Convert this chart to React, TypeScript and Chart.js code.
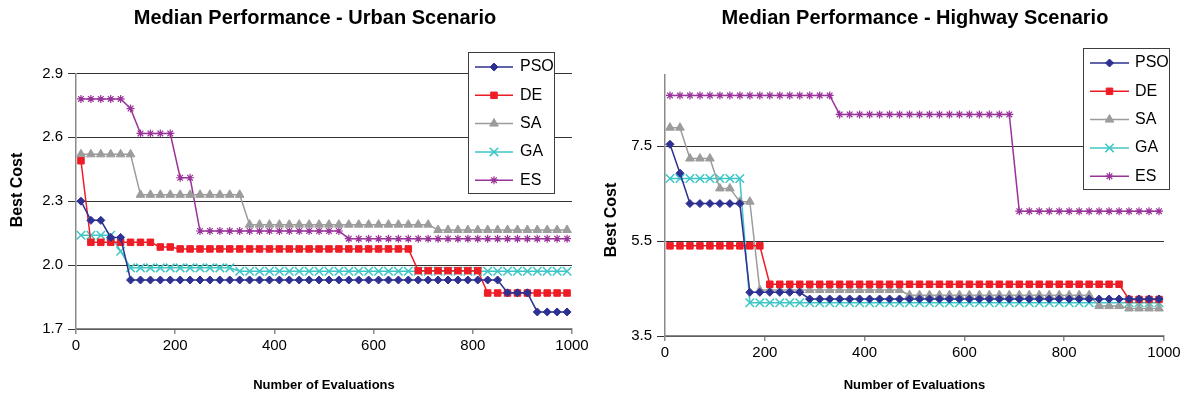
import React, { useEffect, useRef } from 'react';
import { Chart, registerables } from 'chart.js';
import { drawPoint } from 'chart.js/helpers';

Chart.register(...registerables);

const FONT = "'Liberation Sans', Arial, Helvetica, sans-serif";

// Number of evaluations at which each sample was recorded
const evaluations = [
  10, 30, 50, 70, 90, 110, 130, 150, 170, 190,
  210, 230, 250, 270, 290, 310, 330, 350, 370, 390,
  410, 430, 450, 470, 490, 510, 530, 550, 570, 590,
  610, 630, 650, 670, 690, 710, 730, 750, 770, 790,
  810, 830, 850, 870, 890, 910, 930, 950, 970, 990,
];

const xTickValues = [0, 200, 400, 600, 800, 1000];
const urbanYTicks = [1.7, 2.0, 2.3, 2.6, 2.9];
const highwayYTicks = [3.5, 5.5, 7.5];

const seriesNames = ['PSO', 'DE', 'SA', 'GA', 'ES'];

// ---------- Urban scenario ----------
const urbanPSO = [
  2.30, 2.21, 2.21, 2.13, 2.13, 1.93, 1.93, 1.93, 1.93, 1.93,
  1.93, 1.93, 1.93, 1.93, 1.93, 1.93, 1.93, 1.93, 1.93, 1.93,
  1.93, 1.93, 1.93, 1.93, 1.93, 1.93, 1.93, 1.93, 1.93, 1.93,
  1.93, 1.93, 1.93, 1.93, 1.93, 1.93, 1.93, 1.93, 1.93, 1.93,
  1.93, 1.93, 1.93, 1.87, 1.87, 1.87, 1.78, 1.78, 1.78, 1.78,
];
const urbanDE = [
  2.49, 2.107, 2.107, 2.107, 2.107, 2.107, 2.107, 2.107, 2.085, 2.085,
  2.076, 2.076, 2.076, 2.076, 2.076, 2.076, 2.076, 2.076, 2.076, 2.076,
  2.076, 2.076, 2.076, 2.076, 2.076, 2.076, 2.076, 2.076, 2.076, 2.076,
  2.076, 2.076, 2.076, 2.076, 1.974, 1.974, 1.974, 1.974, 1.974, 1.974,
  1.974, 1.869, 1.869, 1.869, 1.869, 1.869, 1.869, 1.869, 1.869, 1.869,
];
const urbanSA = [
  2.52, 2.52, 2.52, 2.52, 2.52, 2.52, 2.33, 2.33, 2.33, 2.33,
  2.33, 2.33, 2.33, 2.33, 2.33, 2.33, 2.33, 2.19, 2.19, 2.19,
  2.19, 2.19, 2.19, 2.19, 2.19, 2.19, 2.19, 2.19, 2.19, 2.19,
  2.19, 2.19, 2.19, 2.19, 2.19, 2.19, 2.165, 2.165, 2.165, 2.165,
  2.165, 2.165, 2.165, 2.165, 2.165, 2.165, 2.165, 2.165, 2.165, 2.165,
];
const urbanGA = [
  2.14, 2.14, 2.14, 2.14, 2.065, 1.987, 1.987, 1.987, 1.987, 1.987,
  1.987, 1.987, 1.987, 1.987, 1.987, 1.987, 1.971, 1.971, 1.971, 1.971,
  1.971, 1.971, 1.971, 1.971, 1.971, 1.971, 1.971, 1.971, 1.971, 1.971,
  1.971, 1.971, 1.971, 1.971, 1.971, 1.971, 1.971, 1.971, 1.971, 1.971,
  1.971, 1.971, 1.971, 1.971, 1.971, 1.971, 1.971, 1.971, 1.971, 1.971,
];
const urbanES = [
  2.78, 2.78, 2.78, 2.78, 2.78, 2.735, 2.618, 2.618, 2.618, 2.618,
  2.41, 2.41, 2.16, 2.16, 2.16, 2.16, 2.16, 2.16, 2.16, 2.16,
  2.16, 2.16, 2.16, 2.16, 2.16, 2.16, 2.16, 2.124, 2.124, 2.124,
  2.124, 2.124, 2.124, 2.124, 2.124, 2.124, 2.124, 2.124, 2.124, 2.124,
  2.124, 2.124, 2.124, 2.124, 2.124, 2.124, 2.124, 2.124, 2.124, 2.124,
];

// ---------- Highway scenario ----------
const highwayPSO = [
  7.54, 6.93, 6.29, 6.29, 6.29, 6.29, 6.29, 6.29, 4.42, 4.42,
  4.42, 4.42, 4.42, 4.42, 4.28, 4.28, 4.28, 4.28, 4.28, 4.28,
  4.28, 4.28, 4.28, 4.28, 4.28, 4.28, 4.28, 4.28, 4.28, 4.28,
  4.28, 4.28, 4.28, 4.28, 4.28, 4.28, 4.28, 4.28, 4.28, 4.28,
  4.28, 4.28, 4.28, 4.28, 4.28, 4.28, 4.28, 4.28, 4.28, 4.28,
];
const highwayDE = [
  5.40, 5.40, 5.40, 5.40, 5.40, 5.40, 5.40, 5.40, 5.40, 5.40,
  4.59, 4.59, 4.59, 4.59, 4.59, 4.59, 4.59, 4.59, 4.59, 4.59,
  4.59, 4.59, 4.59, 4.59, 4.59, 4.59, 4.59, 4.59, 4.59, 4.59,
  4.59, 4.59, 4.59, 4.59, 4.59, 4.59, 4.59, 4.59, 4.59, 4.59,
  4.59, 4.59, 4.59, 4.59, 4.59, 4.59, 4.27, 4.27, 4.27, 4.27,
];
const highwaySA = [
  7.89, 7.89, 7.24, 7.24, 7.24, 6.61, 6.61, 6.33, 6.33, 4.47,
  4.47, 4.47, 4.47, 4.47, 4.47, 4.47, 4.47, 4.47, 4.47, 4.47,
  4.47, 4.47, 4.47, 4.47, 4.36, 4.36, 4.36, 4.36, 4.36, 4.36,
  4.36, 4.36, 4.36, 4.36, 4.36, 4.36, 4.36, 4.36, 4.36, 4.36,
  4.36, 4.36, 4.36, 4.13, 4.13, 4.13, 4.08, 4.08, 4.08, 4.08,
];
const highwayGA = [
  6.82, 6.82, 6.82, 6.82, 6.82, 6.82, 6.82, 6.82, 4.20, 4.20,
  4.20, 4.20, 4.20, 4.20, 4.20, 4.20, 4.20, 4.20, 4.20, 4.20,
  4.20, 4.20, 4.20, 4.20, 4.20, 4.20, 4.20, 4.20, 4.20, 4.20,
  4.20, 4.20, 4.20, 4.20, 4.20, 4.20, 4.20, 4.20, 4.20, 4.20,
  4.20, 4.20, 4.20, 4.20, 4.20, 4.20, 4.20, 4.20, 4.20, 4.20,
];
const highwayES = [
  8.57, 8.57, 8.57, 8.57, 8.57, 8.57, 8.57, 8.57, 8.57, 8.57,
  8.57, 8.57, 8.57, 8.57, 8.57, 8.57, 8.57, 8.17, 8.17, 8.17,
  8.17, 8.17, 8.17, 8.17, 8.17, 8.17, 8.17, 8.17, 8.17, 8.17,
  8.17, 8.17, 8.17, 8.17, 8.17, 6.13, 6.13, 6.13, 6.13, 6.13,
  6.13, 6.13, 6.13, 6.13, 6.13, 6.13, 6.13, 6.13, 6.13, 6.13,
];

const seriesStyles = [
  { color: '#2E3192', pointStyle: 'rectRot', radius: 4, bw: 1 },
  { color: '#EE1C25', pointStyle: 'rect', radius: 4.6, bw: 1 },
  { color: '#9C9C9C', pointStyle: 'triangle', radius: 5, bw: 1 },
  { color: '#3EC6C6', pointStyle: 'crossRot', radius: 6, bw: 1.5 },
  { color: '#993399', pointStyle: 'star', radius: 4, bw: 1.2 },
];

const boxLegend = {
  id: 'boxLegend',
  afterDraw(chart: any, _args: any, opts: any) {
    if (!opts || !opts.display) return;
    const ctx = chart.ctx as CanvasRenderingContext2D;
    ctx.save();
    ctx.fillStyle = '#ffffff';
    ctx.fillRect(opts.x, opts.y, opts.w, opts.h);
    ctx.strokeStyle = '#3c3c3c';
    ctx.lineWidth = 1;
    ctx.strokeRect(opts.x + 0.5, opts.y + 0.5, opts.w, opts.h);
    chart.data.datasets.forEach((ds: any, i: number) => {
      const cy = opts.firstY + i * opts.rowH;
      ctx.strokeStyle = ds.borderColor;
      ctx.lineWidth = 1.5;
      ctx.beginPath();
      ctx.moveTo(opts.lineX1, cy);
      ctx.lineTo(opts.lineX2, cy);
      ctx.stroke();
      ctx.fillStyle = ds.pointBackgroundColor;
      ctx.strokeStyle = ds.pointBorderColor;
      ctx.lineWidth = ds.pointBorderWidth;
      drawPoint(ctx, {
        pointStyle: ds.pointStyle,
        radius: ds.pointRadius,
        borderWidth: ds.pointBorderWidth,
        rotation: 0,
      } as any, (opts.lineX1 + opts.lineX2) / 2, cy);
      ctx.fillStyle = '#000';
      ctx.font = `16px ${FONT}`;
      ctx.textBaseline = 'middle';
      ctx.textAlign = 'left';
      ctx.fillText(ds.label, opts.textX, cy);
    });
    ctx.restore();
  },
};

// Vertical axis title drawn at a given position (the original is not centred on the axis)
const yAxisTitle = {
  id: 'yAxisTitle',
  afterDraw(chart: any, _args: any, opts: any) {
    if (!opts || !opts.text) return;
    const ctx = chart.ctx as CanvasRenderingContext2D;
    ctx.save();
    ctx.translate(opts.x, opts.y);
    ctx.rotate(-Math.PI / 2);
    ctx.fillStyle = '#000';
    ctx.font = `bold 16px ${FONT}`;
    ctx.textAlign = 'center';
    ctx.textBaseline = 'middle';
    ctx.fillText(opts.text, 0, 0);
    ctx.restore();
  },
};

// Moves the horizontal span of the title box so the title is centred where the original is
const titleSpan = {
  id: 'titleSpan',
  afterLayout(chart: any, _args: any, opts: any) {
    const tb = chart.titleBlock;
    if (!tb || !opts || opts.left == null) return;
    tb.left = opts.left;
    tb.right = opts.right;
  },
};

function buildDatasets(series: number[][]) {
  return series.map((vals, i) => {
    const st = seriesStyles[i];
    return {
      label: seriesNames[i],
      data: vals.map((v, j) => ({ x: evaluations[j], y: v })),
      borderColor: st.color,
      backgroundColor: st.color,
      pointBackgroundColor: st.color,
      pointBorderColor: st.color,
      pointStyle: st.pointStyle,
      pointRadius: st.radius,
      pointBorderWidth: st.bw,
      borderWidth: 1.5,
      tension: 0,
      fill: false,
    };
  });
}

function makeConfig(p: any) {
  return {
    type: 'line',
    data: { datasets: buildDatasets(p.series) },
    plugins: [boxLegend, yAxisTitle, titleSpan],
    options: {
      animation: false,
      responsive: false,
      events: [],
      layout: { padding: { left: 0, right: p.padRight, top: 0, bottom: 0 } },
      plugins: {
        legend: { display: false },
        tooltip: { enabled: false },
        title: {
          display: true,
          text: p.title,
          color: '#000',
          fullSize: false,
          font: { size: 20, weight: 'bold', family: FONT },
          padding: { top: 6, bottom: p.titlePadBottom },
        },
        titleSpan: p.titleSpan,
        boxLegend: p.legend,
        yAxisTitle: p.yTitle,
      },
      scales: {
        x: {
          type: 'linear',
          min: 0,
          max: 1000,
          afterBuildTicks: (s: any) => { s.ticks = xTickValues.map((v) => ({ value: v })); },
          afterFit: (s: any) => { s.height = p.xHeight; },
          ticks: {
            font: { size: 15, family: FONT },
            color: '#000',
            padding: 3,
            maxRotation: 0,
            autoSkip: false,
            callback: (v: any) => String(v),
          },
          grid: { drawOnChartArea: false, drawTicks: true, tickLength: 5, color: '#8a8a8a', lineWidth: 1.5 },
          border: { color: '#8a8a8a', width: 1.5 },
          title: {
            display: true,
            text: 'Number of Evaluations',
            color: '#000',
            font: { size: 13, weight: 'bold', family: FONT },
            padding: { top: 0, bottom: 3 },
          },
        },
        y: {
          type: 'linear',
          min: p.yMin,
          max: p.yMax,
          afterBuildTicks: (s: any) => { s.ticks = p.yTicks.map((v: number) => ({ value: v })); },
          afterFit: (s: any) => { s.width = p.yWidth; },
          ticks: {
            font: { size: 15, family: FONT },
            color: '#000',
            padding: 5,
            callback: (v: any) => Number(v).toFixed(1),
          },
          grid: { color: '#333333', lineWidth: 1, tickLength: 8 },
          border: { color: '#8a8a8a', width: 1.5 },
          title: { display: false },
        },
      },
    },
  };
}

export default function App() {
  const leftRef = useRef<HTMLCanvasElement>(null);
  const rightRef = useRef<HTMLCanvasElement>(null);

  useEffect(() => {
    document.body.style.margin = '0';
    Chart.defaults.font.family = FONT;
    const left = new Chart(leftRef.current as HTMLCanvasElement, makeConfig({
      series: [urbanPSO, urbanDE, urbanSA, urbanGA, urbanES],
      title: 'Median Performance - Urban Scenario',
      titlePadBottom: 43.4,
      titleSpan: { left: 58, right: 572 },
      padRight: 59,
      xHeight: 67,
      yWidth: 76,
      yMin: 1.7,
      yMax: 2.9,
      yTicks: urbanYTicks,
      yTitle: { text: 'Best Cost', x: 18, y: 190 },
      legend: { display: true, x: 468, y: 52, w: 86, h: 141, firstY: 67, rowH: 28.3, lineX1: 475, lineX2: 513, textX: 520 },
    }) as any);
    const right = new Chart(rightRef.current as HTMLCanvasElement, makeConfig({
      series: [highwayPSO, highwayDE, highwaySA, highwayGA, highwayES],
      title: 'Median Performance - Highway Scenario',
      titlePadBottom: 45,
      titleSpan: { left: 76, right: 574 },
      padRight: 20,
      xHeight: 60,
      yWidth: 75,
      yMin: 3.5,
      yMax: 9.0,
      yTicks: highwayYTicks,
      yTitle: { text: 'Best Cost', x: 22, y: 220 },
      legend: { display: true, x: 493, y: 48, w: 86, h: 141, firstY: 63, rowH: 28.3, lineX1: 500, lineX2: 539, textX: 545 },
    }) as any);
    return () => {
      left.destroy();
      right.destroy();
    };
  }, []);

  return (
    <div style={{ position: 'relative', width: 1184, height: 396, background: '#fff' }}>
      <canvas ref={leftRef} width={631} height={396} style={{ position: 'absolute', left: 0, top: 0 }} />
      <canvas ref={rightRef} width={594} height={396} style={{ position: 'absolute', left: 590, top: 0 }} />
    </div>
  );
}
